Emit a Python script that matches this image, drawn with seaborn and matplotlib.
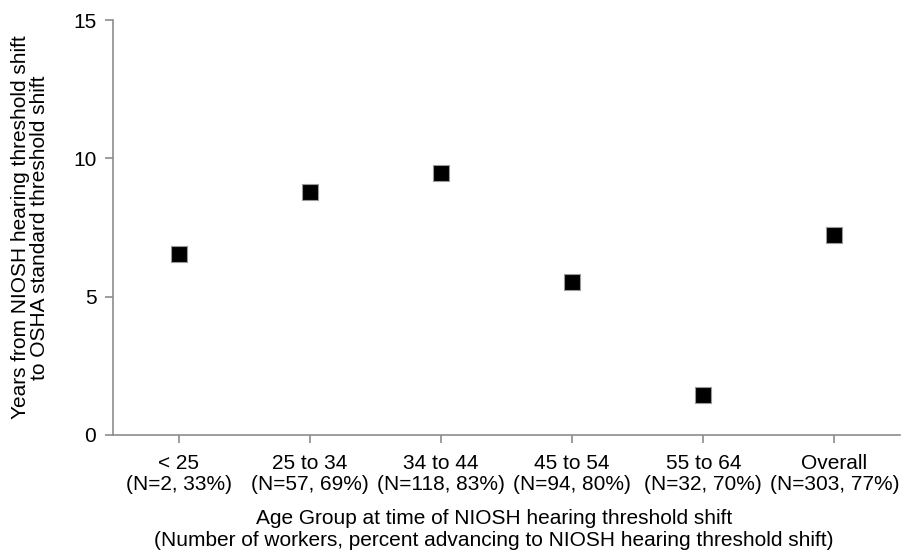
import matplotlib
matplotlib.use("Agg")
import matplotlib.pyplot as plt
import seaborn as sns
import pandas as pd

categories = ["< 25\n(N=2, 33%)", "25 to 34\n(N=57, 69%)", "34 to 44\n(N=118, 83%)",
              "45 to 54\n(N=94, 80%)", "55 to 64\n(N=32, 70%)", "Overall\n(N=303, 77%)"]
years = [6.54, 8.78, 9.46, 5.52, 1.46, 7.24]
yticks = [0, 5, 10, 15]

sns.set_theme(style="white")
plt.rcParams['font.family'] = ['Liberation Sans', 'DejaVu Sans']

df = pd.DataFrame({"pos": range(len(categories)), "years": years})

fig = plt.figure(figsize=(9.02, 5.53), dpi=100)
ax = fig.add_axes([113/902, (553-435)/553, (900-113)/902, (435-20)/553])

sns.scatterplot(data=df, x="pos", y="years", marker="s", s=145, color="black",
                edgecolor="#9a9a9a", linewidth=0.8, ax=ax, legend=False, zorder=3)

FS = 15
ax.set_xlim(-0.5, 5.5)
ax.set_ylim(0, 15)
ax.set_xticks(range(len(categories)))
ax.set_xticklabels(categories, fontsize=FS, color="black", linespacing=1.12)
ax.set_yticks(yticks)
ax.set_yticklabels([str(t) for t in yticks], fontsize=FS, color="black")

for s in ["top", "right"]:
    ax.spines[s].set_visible(False)
for s in ["left", "bottom"]:
    ax.spines[s].set_color("#8c8c8c")
    ax.spines[s].set_linewidth(1.2)

ax.tick_params(axis="both", direction="out", color="#8c8c8c", width=1.2, length=6,
               bottom=True, left=True)
ax.tick_params(axis="x", pad=8)
ax.tick_params(axis="y", pad=6)

ax.set_xlabel("Age Group at time of NIOSH hearing threshold shift\n"
              "(Number of workers, percent advancing to NIOSH hearing threshold shift)",
              fontsize=FS, color="black", linespacing=1.2)
ax.xaxis.set_label_coords((494-113)/(900-113), -(529-435)/415)
ax.set_ylabel("Years from NIOSH hearing threshold shift\nto OSHA standard threshold shift",
              fontsize=FS, color="black", linespacing=1.05)
ax.yaxis.set_label_coords(-(113-30)/(900-113), 0.5)
ax.yaxis.label.set_va("center")
ax.xaxis.label.set_va("center")
ax.xaxis.label.set_ha("center")

fig.savefig("out.png", dpi=100, facecolor="white")
